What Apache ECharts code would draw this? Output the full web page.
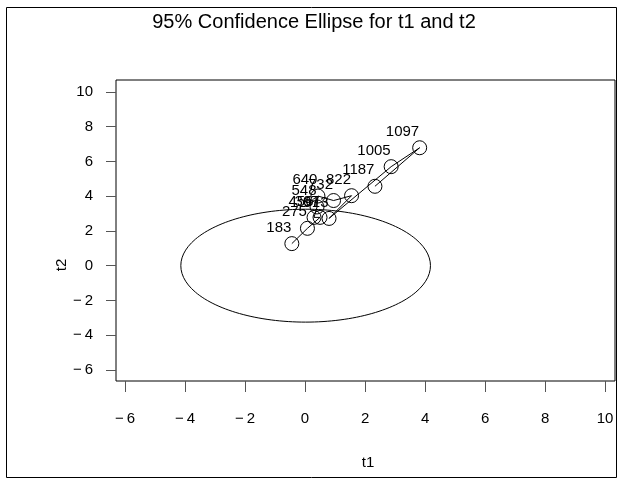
<!DOCTYPE html>
<html>
<head>
<meta charset="utf-8">
<script src="https://cdn.jsdelivr.net/npm/echarts@6/dist/echarts.min.js"></script>
<style>
html,body{margin:0;padding:0;background:#fff;}
#c{width:621px;height:485px;}
</style>
</head>
<body>
<div id="c"></div>
<script>
// Point labels, in the order the line joins them
const labels = ['183','275','367','456','548','640','732','822','913','1005','1097','1187'];
// t1 score per point
const t1 = [-0.44, 0.08, 0.50, 0.30, 0.40, 0.43, 0.95, 1.55, 0.80, 2.87, 3.82, 2.33];
// t2 score per point
const t2 = [1.27, 2.15, 2.78, 2.78, 3.38, 4.01, 3.75, 4.03, 2.72, 5.70, 6.79, 4.57];
// 95% confidence ellipse: centre and semi-axes (t1, t2)
const ellipseCenter = [0.02, 0.0];
const ellipseSemiAxes = [4.16, 3.25];
// Tick values
const xTicks = [-6, -4, -2, 0, 2, 4, 6, 8, 10];
const yTicks = [-6, -4, -2, 0, 2, 4, 6, 8, 10];

const FONT = '"Liberation Sans", Arial, Helvetica, sans-serif';

const pts = labels.map((l, i) => [t1[i], t2[i], l]);
const ell = [];
const N = 180;
for (let k = 0; k <= N; k++) {
  const a = 2 * Math.PI * k / N;
  ell.push([ellipseCenter[0] + ellipseSemiAxes[0] * Math.cos(a),
            ellipseCenter[1] + ellipseSemiAxes[1] * Math.sin(a)]);
}
const fmt = v => (v < 0 ? '\u2212\u2009' + (-v) : String(v));

const chart = echarts.init(document.getElementById('c'), null, {renderer: 'canvas'});
chart.setOption({
  animation: false,
  backgroundColor: '#fff',
  grid: {left: 116, top: 80, right: 6, bottom: 104, show: true, borderColor: '#000', borderWidth: 1, outerBoundsMode: 'none'},
  xAxis: {
    type: 'value', min: -6.3, max: 10.33,
    axisLine: {show: false, onZero: false},
    splitLine: {show: false},
    axisTick: {show: true, length: 11, inside: false, customValues: xTicks, lineStyle: {color: '#555'}},
    axisLabel: {customValues: xTicks, formatter: fmt, margin: 30, fontFamily: FONT, fontSize: 15, color: '#000'}
  },
  yAxis: {
    type: 'value', min: -6.64, max: 10.69,
    axisLine: {show: false, onZero: false},
    splitLine: {show: false},
    axisTick: {show: true, length: 10, inside: false, customValues: yTicks, lineStyle: {color: '#555'}},
    axisLabel: {customValues: yTicks, formatter: fmt, margin: 23, fontFamily: FONT, fontSize: 15, color: '#000'}
  },
  series: [
    {
      type: 'line', data: ell, showSymbol: false, symbol: 'none', smooth: false,
      lineStyle: {color: '#000', width: 1}, silent: true
    },
    {
      type: 'line', data: pts, symbol: 'circle', symbolSize: 14, showAllSymbol: true,
      lineStyle: {color: '#000', width: 1},
      itemStyle: {color: 'rgba(0,0,0,0)', borderColor: '#000', borderWidth: 1},
      label: {
        show: true, formatter: p => p.data[2],
        position: [7, -1], align: 'right', verticalAlign: 'bottom',
        fontFamily: FONT, fontSize: 15, color: '#000'
      },
      labelLayout: {hideOverlap: false},
      z: 3
    }
  ],
  graphic: [
    {type: 'rect', shape: {x: 6.5, y: 7.5, width: 610, height: 470}, style: {fill: 'none', stroke: '#000', lineWidth: 1}, silent: true},
    {type: 'text', x: 314, y: 22, style: {text: '95% Confidence Ellipse for t1 and t2', font: '20px ' + FONT, fill: '#000', textAlign: 'center', textVerticalAlign: 'middle'}},
    {type: 'text', x: 368, y: 463, style: {text: 't1', font: '15px ' + FONT, fill: '#000', textAlign: 'center', textVerticalAlign: 'middle'}},
    {type: 'text', x: 62, y: 265, rotation: Math.PI / 2, style: {text: 't2', font: '15px ' + FONT, fill: '#000', textAlign: 'center', textVerticalAlign: 'middle'}}
  ]
});
</script>
</body>
</html>
